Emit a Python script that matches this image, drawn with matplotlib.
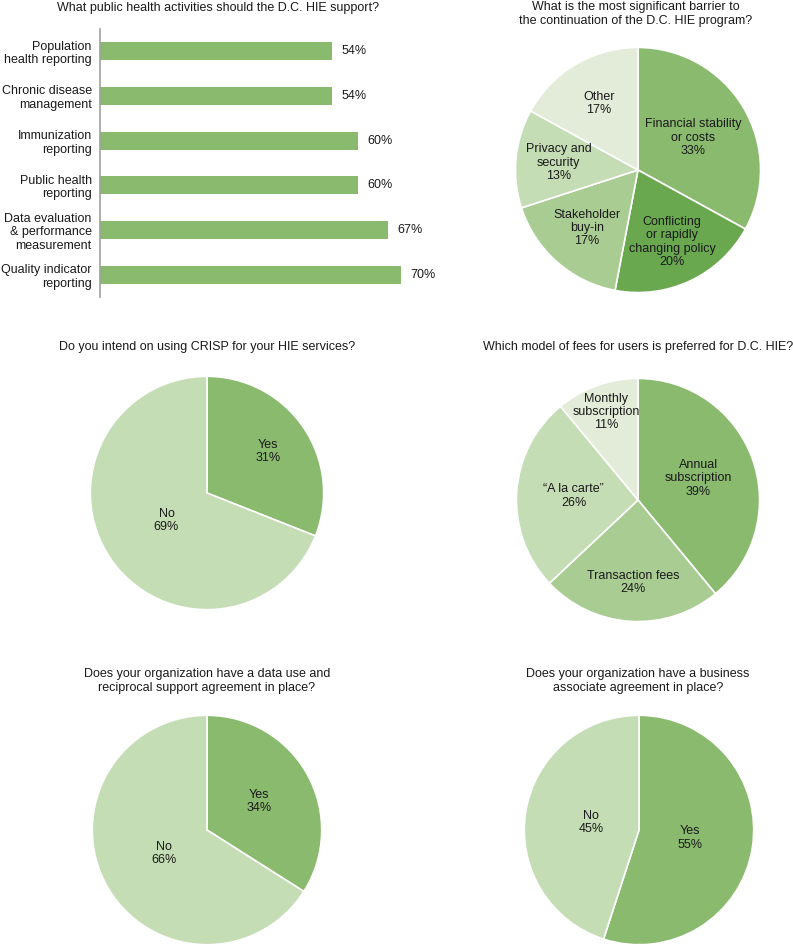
import os
import numpy as np
import matplotlib
matplotlib.use("Agg")
import matplotlib.pyplot as plt
from matplotlib import font_manager as fm

# pick the regular (non-narrow) Liberation Sans file explicitly
_path = None
for f in fm.fontManager.ttflist:
    b = os.path.basename(f.fname)
    if b.startswith('LiberationSans-Regular'):
        _path = f.fname
        break
if _path:
    FP = fm.FontProperties(fname=_path)
else:
    FP = fm.FontProperties(family=['Liberation Sans', 'DejaVu Sans'])

W, H = 793, 950
FS = 9.0
TXT = '#1a1a1a'

# ---------------- data ----------------
bar_categories = ["Population\nhealth reporting", "Chronic disease\nmanagement",
                  "Immunization\nreporting", "Public health\nreporting",
                  "Data evaluation\n& performance\nmeasurement",
                  "Quality indicator\nreporting"]
bar_values = [54, 54, 60, 60, 67, 70]

barrier_labels = ["Financial stability\nor costs", "Conflicting\nor rapidly\nchanging policy",
                  "Stakeholder\nbuy-in", "Privacy and\nsecurity", "Other"]
barrier_values = [33, 20, 17, 13, 17]

crisp_labels = ["Yes", "No"]
crisp_values = [31, 69]

fee_labels = ["Annual\nsubscription", "Transaction fees", "\u201cA la carte\u201d", "Monthly\nsubscription"]
fee_values = [39, 24, 26, 11]

dursa_labels = ["Yes", "No"]
dursa_values = [34, 66]

baa_labels = ["Yes", "No"]
baa_values = [55, 45]

# ---------------- style ----------------
G_MAIN = '#8aba6e'
G_DARK = '#6aa84f'
G_MID = '#a9cc93'
G_LIGHT = '#c5ddb5'
G_PALE = '#e2ecd8'

fig = plt.figure(figsize=(W / 100, H / 100), dpi=100)
fig.patch.set_facecolor('white')


def fp():
    p = FP.copy()
    p.set_size(FS)
    return p


def rect(x0, y0, w, h):
    """pixel box (top-left origin) -> figure fraction"""
    return [x0 / W, 1 - (y0 + h) / H, w / W, h / H]


def ftext(x, y, s, **kw):
    fig.text(x / W, 1 - y / H, s, ha='center', va='center', fontproperties=fp(),
             color=TXT, linespacing=1.2, **kw)


# ---------------- bar chart ----------------
axb = fig.add_axes(rect(100, 29, 430, 268))
ypos = np.arange(len(bar_categories))
axb.barh(ypos, bar_values, height=0.4, color=G_MAIN)
axb.set_xlim(0, 100)
axb.set_ylim(len(bar_categories) - 0.5, -0.5)
for s in ['top', 'right', 'bottom']:
    axb.spines[s].set_visible(False)
axb.spines['left'].set_color('#a0a0a0')
axb.spines['left'].set_linewidth(1.2)
axb.set_xticks([])
axb.set_yticks(ypos)
axb.set_yticklabels(bar_categories, fontproperties=fp(), color=TXT, linespacing=1.15,
                    multialignment='right')
axb.tick_params(axis='y', length=0, pad=6)
for yv, v in zip(ypos, bar_values):
    axb.annotate(f"{v}%", (v, yv), xytext=(7, 0), textcoords='offset points',
                 va='center', ha='left', fontproperties=fp(), color=TXT)
ftext(218, 8, "What public health activities should the D.C. HIE support?")


# ---------------- pies ----------------
def draw_pie(cx, cy, r, values, labels, colors, label_r):
    ax = fig.add_axes(rect(cx - r, cy - r, 2 * r, 2 * r))
    wedges, _ = ax.pie(values, colors=colors, startangle=90, counterclock=False,
                       radius=1.0,
                       wedgeprops=dict(edgecolor='white', linewidth=1.2))
    ax.set_xlim(-1.02, 1.02)
    ax.set_ylim(-1.02, 1.02)
    ax.set_aspect('equal')
    ax.axis('off')
    for w, lab, v, lr in zip(wedges, labels, values, label_r):
        ang = np.deg2rad((w.theta1 + w.theta2) / 2)
        ax.text(lr * np.cos(ang), lr * np.sin(ang), f"{lab}\n{v}%",
                ha='center', va='center', fontproperties=fp(), color=TXT,
                linespacing=1.15)
    return ax


draw_pie(638, 170, 125, barrier_values, barrier_labels,
         [G_MAIN, G_DARK, G_MID, G_LIGHT, G_PALE],
         [0.52, 0.65, 0.63, 0.65, 0.63])
ftext(636, 14, "What is the most significant barrier to\nthe continuation of the D.C. HIE program?")

draw_pie(207, 493, 119, crisp_values, crisp_labels, [G_MAIN, G_LIGHT], [0.63, 0.42])
ftext(207, 347, "Do you intend on using CRISP for your HIE services?")

draw_pie(638, 500, 124, fee_values, fee_labels, [G_MAIN, G_MID, G_LIGHT, G_PALE],
         [0.53, 0.68, 0.53, 0.77])
ftext(638, 347, "Which model of fees for users is preferred for D.C. HIE?")

draw_pie(207, 830, 117, dursa_values, dursa_labels, [G_MAIN, G_LIGHT], [0.52, 0.43])
ftext(207, 681, "Does your organization have a data use and\nreciprocal support agreement in place?")

draw_pie(639, 830, 117, baa_values, baa_labels, [G_MAIN, G_LIGHT], [0.45, 0.42])
ftext(638, 681, "Does your organization have a business\nassociate agreement in place?")

fig.savefig("out.png", dpi=100, facecolor='white')
